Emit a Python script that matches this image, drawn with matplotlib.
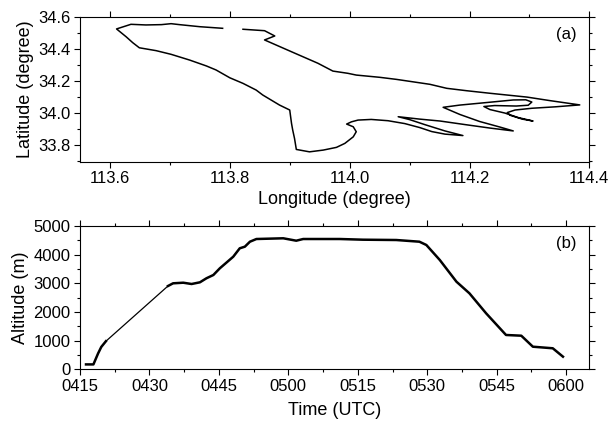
import numpy as np
import matplotlib
matplotlib.use("Agg")
import matplotlib.pyplot as plt
from matplotlib.ticker import MultipleLocator, FuncFormatter

plt.rcParams['font.family'] = ['Liberation Sans', 'DejaVu Sans']

# flight track (a)
lon = [113.788, 113.750, 113.716, 113.702, 113.686, 113.660, 113.635, 113.611,
       113.627, 113.638, 113.649, 113.677, 113.702, 113.733, 113.761, 113.777,
       113.800, 113.822, 113.844, 113.855, 113.867, 113.883, 113.900,
       113.903, 113.905, 113.908, 113.911, 113.933, 113.956, 113.978, 113.992,
       114.006, 114.011, 114.006, 113.995, 114.003, 114.014, 114.036, 114.064,
       114.092, 114.117, 114.137, 114.159, 114.189,
       114.159, 114.125, 114.100, 114.081,
       114.117, 114.151, 114.192, 114.234, 114.273,
       114.251, 114.217, 114.184, 114.156,
       114.184, 114.229, 114.273, 114.294, 114.304, 114.298, 114.278, 114.242,
       114.224, 114.234, 114.259, 114.281, 114.306,
       114.288, 114.268, 114.263, 114.276, 114.304, 114.343, 114.384,
       114.334, 114.296, 114.234, 114.195, 114.162, 114.134, 114.078, 114.050,
       114.011, 113.997, 113.972, 113.947, 113.903, 113.858, 113.875, 113.858,
       113.822]
lat = [34.531, 34.541, 34.554, 34.560, 34.554, 34.552, 34.556, 34.527,
       34.478, 34.441, 34.409, 34.391, 34.368, 34.332, 34.295, 34.270,
       34.221, 34.186, 34.144, 34.113, 34.086, 34.050, 34.019,
       33.935, 33.893, 33.841, 33.772, 33.757, 33.768, 33.785, 33.810,
       33.851, 33.883, 33.914, 33.931, 33.945, 33.956, 33.960, 33.952,
       33.934, 33.909, 33.884, 33.868, 33.859,
       33.888, 33.928, 33.959, 33.977,
       33.962, 33.950, 33.928, 33.906, 33.888,
       33.912, 33.947, 33.991, 34.036,
       34.050, 34.066, 34.082, 34.083, 34.069, 34.049, 34.044, 34.047,
       34.041, 34.022, 34.000, 33.972, 33.950,
       33.962, 33.986, 34.003, 34.019, 34.030, 34.039, 34.051,
       34.078, 34.100, 34.124, 34.140, 34.155, 34.180, 34.211, 34.224,
       34.238, 34.249, 34.263, 34.312, 34.384, 34.458, 34.483, 34.516,
       34.525]

# altitude profile (b), time in minutes after 0000 UTC
t_min = [256.3, 257.9, 258.9, 259.6, 260.6, 274.0, 275.1, 277.3, 279.1, 280.9,
         282.3, 283.8, 285.2, 286.6, 288.1, 289.5, 290.6, 291.7, 293.1, 298.9,
         301.7, 303.2, 311.1, 316.1, 323.3, 328.3, 329.8, 332.7, 336.3, 339.1,
         342.7, 347.0, 350.3, 352.8, 357.1, 359.3]
alt = [170, 170, 550, 780, 980, 2906, 3000, 3021, 2976, 3035,
       3175, 3290, 3524, 3719, 3929, 4222, 4278, 4452, 4546, 4571,
       4487, 4546, 4546, 4522, 4511, 4452, 4337, 3814, 3056, 2651,
       1954, 1197, 1172, 788, 733, 440]
gap = 4  # data gap between ~0420 and ~0434, drawn as a thin straight line

fig = plt.figure(figsize=(6.12, 4.29), dpi=100)
ax1 = fig.add_axes([0.1307, 0.623, 0.8323, 0.3367])
ax2 = fig.add_axes([0.1307, 0.1392, 0.8323, 0.334])

ax1.plot(lon, lat, color='black', lw=1.1)
ax1.set_xlim(113.55, 114.4)
ax1.set_ylim(33.695, 34.6)
ax1.xaxis.set_major_locator(MultipleLocator(0.2))
ax1.xaxis.set_minor_locator(MultipleLocator(0.1))
ax1.yaxis.set_major_locator(MultipleLocator(0.2))
ax1.yaxis.set_minor_locator(MultipleLocator(0.1))
ax1.xaxis.set_major_formatter(FuncFormatter(lambda v, p: f"{v:.1f}"))
ax1.yaxis.set_major_formatter(FuncFormatter(lambda v, p: f"{v:.1f}"))
ax1.set_xlabel('Longitude (degree)', fontsize=13, labelpad=3)
ax1.set_ylabel('Latitude (degree)', fontsize=13, labelpad=3)
ax1.text(0.975, 0.93, '(a)', transform=ax1.transAxes, ha='right', va='top', fontsize=12)

ax2.plot(t_min[:gap + 1], alt[:gap + 1], color='black', lw=1.8)
ax2.plot(t_min[gap:gap + 2], alt[gap:gap + 2], color='black', lw=0.9)
ax2.plot(t_min[gap + 1:], alt[gap + 1:], color='black', lw=1.8)
ax2.set_xlim(255, 365)
ax2.set_ylim(0, 5000)
ax2.xaxis.set_major_locator(MultipleLocator(15))
ax2.xaxis.set_minor_locator(MultipleLocator(7.5))
ax2.yaxis.set_major_locator(MultipleLocator(1000))
ax2.yaxis.set_minor_locator(MultipleLocator(500))
ax2.xaxis.set_major_formatter(FuncFormatter(lambda v, p: f"{int(v) // 60:02d}{int(v) % 60:02d}"))
ax2.set_xlabel('Time (UTC)', fontsize=13, labelpad=6)
ax2.set_ylabel('Altitude (m)', fontsize=13, labelpad=3)
ax2.text(0.975, 0.93, '(b)', transform=ax2.transAxes, ha='right', va='top', fontsize=12)

for ax in (ax1, ax2):
    ax.tick_params(which='both', direction='out', top=True, right=True,
                   labeltop=False, labelright=False, labelsize=12, width=0.8)
    ax.tick_params(which='major', length=4, pad=3)
    ax.tick_params(which='minor', length=2.5)
    for s in ax.spines.values():
        s.set_linewidth(0.8)

plt.savefig("out.png", dpi=100)
